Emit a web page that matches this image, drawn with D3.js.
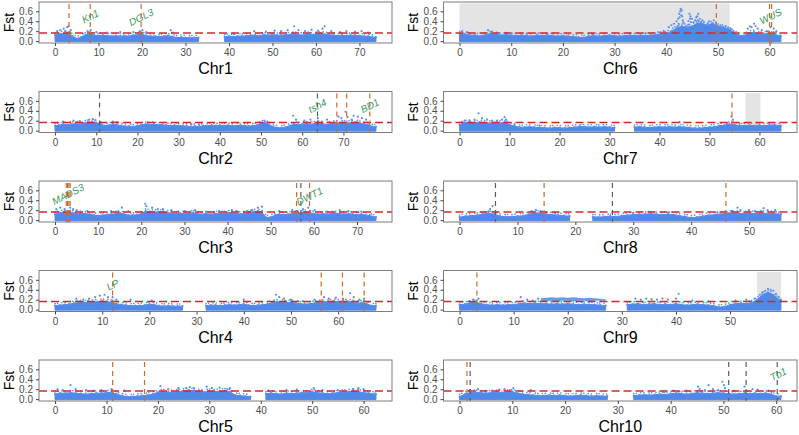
<!DOCTYPE html>
<html><head><meta charset="utf-8">
<script src="https://cdn.jsdelivr.net/npm/d3@7"></script>
<style>
body{margin:0;background:#fff}
svg{display:block}
text{font-family:"Liberation Sans",Arial,Helvetica,sans-serif}
</style>
</head><body>
<svg id="c" width="799" height="435"></svg>
<script>
// ---------------- DATA ----------------
const chromosomes = ["Chr1","Chr2","Chr3","Chr4","Chr5","Chr6","Chr7","Chr8","Chr9","Chr10"];
const chrLengths  = [73.8, 77.9, 74.4, 68.0, 62.4, 62.2, 64.3, 55.5, 59.4, 60.9];
const yTicks = [0.0, 0.2, 0.4, 0.6];
const fstThreshold = 0.165;

// upper edge of the dense SNP band, one value per Mb (null = no SNPs)
const bandChr1 = [0.12,0.15,0.15,0.17,0.1,0.05,0.08,0.13,0.14,0.12,0.11,0.12,0.11,0.1,0.11,0.1,0.11,0.1,0.12,0.13,0.14,0.11,0.1,0.1,0.09,0.1,0.11,0.09,0.07,0.08,0.07,0.07,0.07,0.07,null,null,null,null,null,0.09,0.1,0.09,0.1,0.1,0.11,0.12,0.12,0.11,0.13,0.12,0.13,0.12,0.12,0.13,0.13,0.14,0.13,0.12,0.14,0.13,0.14,0.15,0.14,0.13,0.12,0.11,0.12,0.11,0.12,0.12,0.11,0.1,0.1,0.08];
const bandChr2 = [0.1,0.11,0.13,0.12,0.13,0.14,0.13,0.15,0.17,0.17,0.16,0.14,0.1,0.11,0.13,0.12,0.1,0.09,0.09,0.08,0.1,0.12,0.13,0.12,0.13,0.12,0.12,0.11,0.1,0.11,0.1,0.1,0.09,0.08,0.09,0.08,0.1,0.1,0.11,0.1,0.11,0.1,0.11,0.1,0.1,0.11,0.1,0.09,0.1,0.11,0.15,0.17,0.12,0.08,0.06,0.06,0.07,0.1,0.13,0.12,0.13,0.14,0.13,0.14,0.15,0.14,0.12,0.15,0.16,0.15,0.16,0.15,0.16,0.17,0.15,0.13,0.12,0.08];
const bandChr3 = [0.12,0.15,0.16,0.15,0.15,0.14,0.14,0.13,0.12,0.1,0.09,0.1,0.11,0.12,0.13,0.15,0.12,0.1,0.1,0.11,0.13,0.18,0.17,0.16,0.17,0.16,0.15,0.14,0.13,0.14,0.13,0.14,0.15,0.13,0.12,0.13,0.12,0.13,0.14,0.13,0.15,0.15,0.14,0.12,0.14,0.16,0.17,0.18,0.15,0.05,0.06,0.1,0.12,0.11,0.12,0.13,0.14,0.15,0.16,0.15,0.13,0.12,0.13,0.12,0.13,0.14,0.13,0.12,0.13,0.12,0.11,0.12,0.1,0.1,0.06];
const bandChr4 = [0.08,0.09,0.1,0.11,0.13,0.14,0.15,0.14,0.15,0.16,0.17,0.16,0.15,0.12,0.1,0.09,0.08,0.08,0.08,0.09,0.11,0.1,0.08,0.07,0.08,0.07,0.07,0.07,null,null,null,null,0.08,0.09,0.09,0.08,0.09,0.1,0.09,0.1,0.11,0.09,0.08,0.09,0.1,0.11,0.14,0.16,0.15,0.14,0.15,0.13,0.12,0.11,0.12,0.13,0.15,0.16,0.15,0.17,0.16,0.15,0.17,0.15,0.13,0.14,0.12,0.08];
const bandChr5 = [0.1,0.12,0.12,0.13,0.12,0.11,0.1,0.11,0.12,0.12,0.13,0.14,0.1,0.07,0.05,0.05,0.06,0.07,0.08,0.1,0.14,0.15,0.14,0.14,0.15,0.17,0.18,0.17,0.15,0.14,0.16,0.15,0.16,0.17,0.15,0.08,0.07,0.06,0.05,null,null,0.11,0.12,0.11,0.1,0.12,0.11,0.12,0.13,0.13,0.15,0.13,0.12,0.11,0.12,0.13,0.14,0.15,0.16,0.15,0.13,0.12,0.1];
const bandChr6 = [0.15,0.14,0.12,0.12,0.1,0.13,0.15,0.14,0.12,0.13,0.12,0.11,0.12,0.11,0.1,0.12,0.11,0.12,0.11,0.1,0.11,0.1,0.09,0.08,0.07,0.1,0.11,0.1,0.11,0.12,0.11,0.1,0.11,0.12,0.11,0.12,0.11,0.12,0.13,0.14,0.15,0.2,0.26,0.3,0.28,0.3,0.36,0.35,0.32,0.36,0.3,0.28,0.25,0.18,0.12,0.11,0.16,0.18,0.14,0.14,0.16,0.14,0.1];
const bandChr7 = [0.12,0.16,0.17,0.16,0.17,0.16,0.15,0.16,0.15,0.17,0.12,0.09,0.07,0.07,0.08,0.07,0.06,0.06,0.05,0.06,0.06,0.05,0.06,0.07,0.08,0.08,0.07,0.08,0.07,0.08,0.07,0.06,null,null,null,0.07,0.08,0.07,0.06,0.07,0.08,0.07,0.08,0.07,0.08,0.07,0.06,0.05,0.05,0.06,0.07,0.08,0.1,0.11,0.13,0.12,0.1,0.1,0.11,0.1,0.11,0.1,0.11,0.12,0.1];
const bandChr8 = [0.06,0.08,0.09,0.1,0.12,0.14,0.12,0.08,0.07,0.07,0.08,0.09,0.12,0.15,0.14,0.12,0.11,0.1,0.09,0.08,null,null,null,0.07,0.06,0.07,0.08,0.07,0.09,0.1,0.11,0.12,0.12,0.13,0.12,0.11,0.12,0.11,0.09,0.07,0.05,0.06,0.08,0.1,0.11,0.12,0.14,0.15,0.14,0.13,0.14,0.13,0.15,0.13,0.14,0.12];
const bandChr9 = [0.1,0.11,0.14,0.15,0.12,0.1,0.09,0.1,0.09,0.1,0.1,0.12,0.13,0.12,0.13,0.12,0.12,0.11,0.12,0.11,0.12,0.11,0.1,0.11,0.1,0.1,0.09,0.08,null,null,null,0.1,0.11,0.12,0.1,0.11,0.12,0.1,0.11,0.1,0.12,0.1,0.09,0.1,0.11,0.1,0.09,0.08,0.05,0.06,0.1,0.12,0.13,0.12,0.14,0.2,0.3,0.35,0.3,0.2];
const bandChr10 = [0.05,0.1,0.13,0.14,0.13,0.12,0.13,0.14,0.13,0.14,0.15,0.12,0.1,0.09,0.08,0.07,0.07,0.08,0.07,0.08,0.07,0.06,0.07,0.08,0.07,0.06,0.07,0.06,0.06,null,null,null,null,0.07,0.08,0.09,0.08,0.09,0.1,0.09,0.11,0.12,0.11,0.1,0.11,0.13,0.12,0.11,0.12,0.13,0.12,0.11,0.1,0.11,0.12,0.11,0.12,0.11,0.12,0.1,0.06];

// second (upper) SNP layer seen on Chr9 between 15 and 27 Mb
const chr9UpperStart = 15;
const chr9UpperTop    = [0.23,0.24,0.25,0.24,0.25,0.24,0.25,0.24,0.23,0.24,0.23,0.22,0.21];
const chr9UpperBottom = [0.18,0.17,0.18,0.17,0.18,0.18,0.17,0.18,0.18,0.17,0.18,0.18,0.18];

// SNPs standing above the band: [position Mb, Fst]
const outChr1 = [[0.5,0.2],[1.2,0.22],[2,0.25],[2.4,0.2],[2.8,0.28],[3.1,0.3],[3.6,0.22],[7.5,0.2],[8.2,0.22],[9.5,0.18],[12,0.17],[15,0.18],[18,0.18],[19.5,0.2],[20.1,0.22],[21,0.18],[26.6,0.22],[27,0.17],[41,0.15],[45.8,0.2],[48.5,0.19],[50.5,0.21],[52,0.2],[53.5,0.22],[55,0.3],[56,0.22],[57.5,0.2],[59,0.23],[60.5,0.21],[61.5,0.25],[62,0.3],[63.5,0.2],[65.5,0.18],[67,0.2],[69,0.19],[70.5,0.2],[72,0.17]];
const outChr2 = [[2,0.18],[4.5,0.2],[6,0.19],[8.3,0.22],[9.2,0.23],[9.8,0.21],[14,0.18],[15,0.17],[22.5,0.16],[33,0.13],[35,0.12],[50.8,0.2],[57.8,0.3],[58.5,0.22],[60.5,0.2],[62,0.22],[63.8,0.25],[66,0.22],[68.8,0.28],[69.5,0.25],[70.5,0.38],[71,0.27],[72,0.22],[72.5,0.3],[73.5,0.28],[74.5,0.25],[75.5,0.22]];
const outChr3 = [[0.3,0.22],[1.2,0.25],[2.2,0.22],[3.5,0.25],[4.2,0.22],[5,0.2],[7.5,0.18],[13,0.18],[15.5,0.25],[17,0.18],[20.9,0.33],[21.2,0.28],[22.5,0.25],[23.8,0.22],[25,0.22],[27,0.2],[30,0.18],[32.5,0.2],[35,0.17],[38,0.18],[41,0.2],[42,0.18],[45.5,0.2],[47,0.25],[48,0.27],[52,0.18],[55,0.2],[57.5,0.22],[58.7,0.25],[60.2,0.2],[63,0.17],[66,0.2],[68,0.18],[71,0.17]];
const outChr4 = [[4.5,0.22],[6,0.2],[7.2,0.22],[8.5,0.25],[9.5,0.28],[10.5,0.3],[11.2,0.25],[12.2,0.25],[13,0.2],[16,0.2],[20.5,0.18],[40,0.2],[46.8,0.3],[47.5,0.25],[48.5,0.22],[50,0.2],[52.5,0.17],[55,0.2],[57,0.25],[58,0.22],[59.5,0.24],[61,0.22],[62.5,0.33],[63.3,0.25],[64.5,0.2],[65.5,0.22]];
const outChr5 = [[0.5,0.2],[1.5,0.18],[3,0.28],[4,0.2],[6,0.18],[7.5,0.17],[9,0.18],[11,0.2],[13.5,0.17],[20.5,0.26],[22,0.2],[24,0.22],[25.5,0.22],[26.2,0.24],[27,0.22],[29.5,0.25],[30.5,0.22],[32,0.23],[33.5,0.2],[34,0.22],[41.5,0.17],[45,0.18],[47,0.19],[50.3,0.22],[52,0.18],[55,0.18],[58,0.2],[59,0.22],[60,0.2]];
const outChr6 = [[0.5,0.2],[1.5,0.18],[5.5,0.22],[6.2,0.19],[9,0.16],[13,0.15],[17,0.15],[25.8,0.14],[33,0.15],[36,0.16],[38.5,0.18],[39.5,0.2],[40.5,0.28],[41,0.32],[41.5,0.35],[42,0.4],[42.2,0.3],[42.3,0.45],[42.4,0.35],[42.5,0.55],[42.6,0.48],[42.7,0.6],[42.8,0.65],[42.9,0.52],[43,0.62],[43.1,0.5],[43.2,0.42],[43.3,0.38],[43.5,0.35],[43.8,0.3],[44.3,0.4],[44.4,0.33],[44.5,0.55],[44.6,0.45],[44.7,0.5],[44.8,0.38],[45,0.45],[45.3,0.38],[45.6,0.42],[45.8,0.48],[46,0.5],[46.1,0.42],[46.2,0.55],[46.3,0.4],[46.5,0.45],[46.7,0.38],[46.8,0.35],[47,0.42],[47.3,0.38],[47.6,0.32],[48,0.35],[48.3,0.4],[48.6,0.3],[49,0.35],[49.2,0.42],[49.3,0.32],[49.6,0.38],[50,0.3],[50.5,0.32],[51,0.28],[51.5,0.3],[52,0.27],[52.5,0.24],[53,0.2],[55.8,0.25],[56.2,0.3],[56.5,0.28],[57,0.35],[57.3,0.3],[57.7,0.25],[58.5,0.22],[59.5,0.2],[60.2,0.28],[60.8,0.25],[61.3,0.2]];
const outChr7 = [[1,0.2],[2,0.2],[3,0.22],[3.8,0.35],[4.5,0.25],[5.5,0.22],[6.5,0.2],[7.5,0.2],[8.5,0.22],[9,0.27],[9.3,0.22],[11,0.12],[16,0.1],[24,0.1],[44,0.17],[53.5,0.15],[54.4,0.28],[54.7,0.22],[56,0.14],[62,0.14]];
const outChr8 = [[4,0.15],[5,0.18],[5.3,0.22],[5.7,0.28],[12.5,0.18],[13.2,0.2],[14,0.18],[15,0.15],[16.5,0.14],[30,0.14],[33,0.16],[36,0.15],[44.5,0.15],[47,0.18],[48,0.25],[48.5,0.2],[50,0.2],[51,0.18],[52.5,0.24],[53.2,0.2],[54.5,0.2]];
const outChr9 = [[2.5,0.2],[3.5,0.22],[11.3,0.25],[12.5,0.2],[13.5,0.18],[14.5,0.22],[32.5,0.22],[33.5,0.2],[34.5,0.22],[35.5,0.21],[36.5,0.2],[37.5,0.22],[38.5,0.2],[40,0.22],[40.5,0.32],[43,0.18],[46,0.16],[51,0.18],[53,0.2],[54.5,0.22],[55.5,0.3],[56,0.35],[56.5,0.38],[57,0.42],[57.5,0.4],[58,0.38],[58.5,0.32],[59,0.25]];
const outChr10 = [[2,0.18],[3.5,0.2],[5,0.17],[7.5,0.19],[8.5,0.2],[9.5,0.18],[10.2,0.22],[13.5,0.18],[38.5,0.14],[40.5,0.17],[41.5,0.15],[43,0.17],[45.2,0.25],[45.5,0.2],[46.5,0.18],[47.2,0.28],[48,0.2],[49,0.18],[49.8,0.35],[50.1,0.28],[50.3,0.22],[52,0.17],[54,0.25],[55.5,0.2],[56.5,0.19],[58.5,0.17]];

// candidate loci (vertical dashed lines): o = orange, g = grey
const markerChr  = [1,1,1, 6,6,6, 2,2,2,2,2, 7, 3,3,3,3,3,3,3, 8,8,8,8, 4,4,4,4, 9, 5,5, 10,10,10,10,10];
const markerPos  = [3.2,8.1,19.8, 49.7,60.0,60.4, 10.8,63.7,68.4,70.8,76.4, 54.5, 2.6,2.9,3.2,3.5,56.0,57.0,59.0, 6.2,14.6,26.4,46.0, 12.2,56.4,60.9,65.5, 3.2, 11.2,17.4, 1.4,2.0,51.0,54.3,60.2];
const markerType = ["o","o","o", "o","o","o", "g","g","o","o","o", "o", "o","o","o","o","o","g","o", "g","o","g","o", "o","o","o","o", "o", "o","o", "o","g","g","g","g"];

// gene labels
const geneNames = ["Kn1","DGL3","tsh4","BD1","MADS3","DWT1","LP","WUS","Tb1"];
const geneChr   = [1,1,2,2,3,3,4,6,10];
const genePos   = [8.1,19.8,63.7,76.4,3.0,59.0,12.2,60.2,60.4];
const geneFst   = [0.5,0.48,0.5,0.5,0.52,0.48,0.5,0.5,0.5];

// shaded regions
const shadeChr   = [6, 7, 9];
const shadeStart = [0.0, 57.2, 55.0];
const shadeEnd   = [52.3, 60.2, 59.4];

const bands = [bandChr1,bandChr2,bandChr3,bandChr4,bandChr5,bandChr6,bandChr7,bandChr8,bandChr9,bandChr10];
const outs  = [outChr1,outChr2,outChr3,outChr4,outChr5,outChr6,outChr7,outChr8,outChr9,outChr10];

// ---------------- LAYOUT ----------------
const colLeft = [39, 443.5];
const panelW  = [353, 353.5];
const rowTop  = [2, 91.5, 181, 270.5, 360];
const panelH  = 41;
const yDomain = [-0.0375, 0.7875];

const C = {
  band:"#5088e8", point:"#5b8ff0", red:"#d7262b", orange:"#cf6a2a", grey:"#5a5a5a",
  shade:"#e4e4e4", border:"#7d7d7d", tick:"#444", tickText:"#4d4d4d", gene:"#3d9b5c"
};

const svg = d3.select("#c");

chromosomes.forEach((name, k) => {
  const col = k < 5 ? 0 : 1, row = k % 5;
  const L = chrLengths[k];
  const x0 = colLeft[col], w = panelW[col], t = rowTop[row], b = t + panelH;
  const x = d3.scaleLinear().domain([-0.05 * L, 1.05 * L]).range([x0, x0 + w]);
  const y = d3.scaleLinear().domain(yDomain).range([b, t]);
  const g = svg.append("g");
  const chrNo = k + 1;

  const clipId = "clip" + k;
  g.append("clipPath").attr("id", clipId).append("rect")
    .attr("x", x0).attr("y", t).attr("width", w).attr("height", panelH);
  const p = g.append("g").attr("clip-path", `url(#${clipId})`);

  // shaded regions
  shadeChr.forEach((c, i) => {
    if (c !== chrNo) return;
    p.append("rect")
      .attr("x", x(shadeStart[i])).attr("width", x(shadeEnd[i]) - x(shadeStart[i]))
      .attr("y", y(0.76)).attr("height", y(-0.01) - y(0.76))
      .attr("fill", C.shade);
  });

  // dense band
  const vals = bands[k];
  const pts = vals.map((v, i) => [Math.min(i, L), v]);
  if (pts[pts.length - 1][0] < L && vals[vals.length - 1] != null) pts.push([L, vals[vals.length - 1]]);
  const area = d3.area()
    .defined(d => d[1] != null)
    .x(d => x(d[0])).y0(y(0) + 0.5).y1(d => y(d[1]));
  p.append("path").datum(pts).attr("d", area).attr("fill", C.band)
    .attr("stroke", C.band).attr("stroke-width", 1).attr("stroke-linejoin", "round");
  // speckled fringe just above the band top
  const fringe = d3.line().defined(d => d[1] != null).x(d => x(d[0])).y(d => y(d[1]) - 2.2);
  p.append("path").datum(pts).attr("d", fringe).attr("fill", "none")
    .attr("stroke", C.point).attr("stroke-width", 1.6).attr("stroke-linecap", "round")
    .attr("stroke-dasharray", "0.1,2.4,0.1,4.3,0.1,3.1,0.1,5.2");

  // Chr9 upper layer
  if (chrNo === 9) {
    const up = chr9UpperTop.map((v, i) => [chr9UpperStart + i, v, chr9UpperBottom[i]]);
    p.append("path").datum(up)
      .attr("d", d3.area().x(d => x(d[0])).y0(d => y(d[2])).y1(d => y(d[1])))
      .attr("fill", C.band).attr("fill-opacity", 0.85);
  }

  // points on band top + outliers
  p.selectAll("circle.top").data(pts.filter(d => d[1] != null)).join("circle")
    .attr("cx", d => x(d[0])).attr("cy", d => y(d[1])).attr("r", 1.1).attr("fill", C.point);
  p.selectAll("circle.out").data(outs[k]).join("circle")
    .attr("cx", d => x(d[0])).attr("cy", d => y(d[1])).attr("r", 1.1).attr("fill", C.point);

  // threshold
  p.append("line").attr("x1", x0).attr("x2", x0 + w)
    .attr("y1", y(fstThreshold)).attr("y2", y(fstThreshold))
    .attr("stroke", C.red).attr("stroke-width", 1.4).attr("stroke-dasharray", "8,4");

  // marker lines
  markerChr.forEach((c, i) => {
    if (c !== chrNo) return;
    p.append("line").attr("x1", x(markerPos[i])).attr("x2", x(markerPos[i]))
      .attr("y1", t + 2).attr("y2", b)
      .attr("stroke", markerType[i] === "o" ? C.orange : C.grey)
      .attr("stroke-width", 1.2).attr("stroke-dasharray", "5,4");
  });

  // gene labels
  geneChr.forEach((c, i) => {
    if (c !== chrNo) return;
    p.append("text")
      .attr("transform", `translate(${x(genePos[i])},${y(geneFst[i])}) rotate(-27)`)
      .attr("text-anchor", "middle").attr("dominant-baseline", "central")
      .attr("font-size", 10).attr("font-style", "italic").attr("fill", C.gene)
      .text(geneNames[i]);
  });

  // border
  g.append("rect").attr("x", x0).attr("y", t).attr("width", w).attr("height", panelH)
    .attr("fill", "none").attr("stroke", C.border).attr("stroke-width", 1);

  // axes
  const ax = g.append("g").attr("transform", `translate(0,${b})`)
    .call(d3.axisBottom(x).tickValues(d3.range(0, L, 10)).tickSize(3).tickPadding(3).tickFormat(d3.format("d")));
  const ay = g.append("g").attr("transform", `translate(${x0},0)`)
    .call(d3.axisLeft(y).tickValues(yTicks).tickSize(3).tickPadding(3).tickFormat(d3.format(".1f")));
  [ax, ay].forEach(a => {
    a.select(".domain").remove();
    a.selectAll("line").attr("stroke", C.tick);
    a.selectAll("text").attr("fill", C.tickText).attr("font-size", 10)
      .attr("font-family", '"Liberation Sans", Arial, sans-serif');
  });

  // axis titles
  g.append("text").attr("x", x0 + w / 2).attr("y", b + 31)
    .attr("text-anchor", "middle").attr("font-size", 16).attr("fill", "#000").text(name);
  g.append("text").attr("transform", `translate(${x0 - 25.5},${t + panelH / 2}) rotate(-90)`)
    .attr("text-anchor", "middle").attr("font-size", 14).attr("fill", "#000").text("Fst");
});
</script>
</body></html>
